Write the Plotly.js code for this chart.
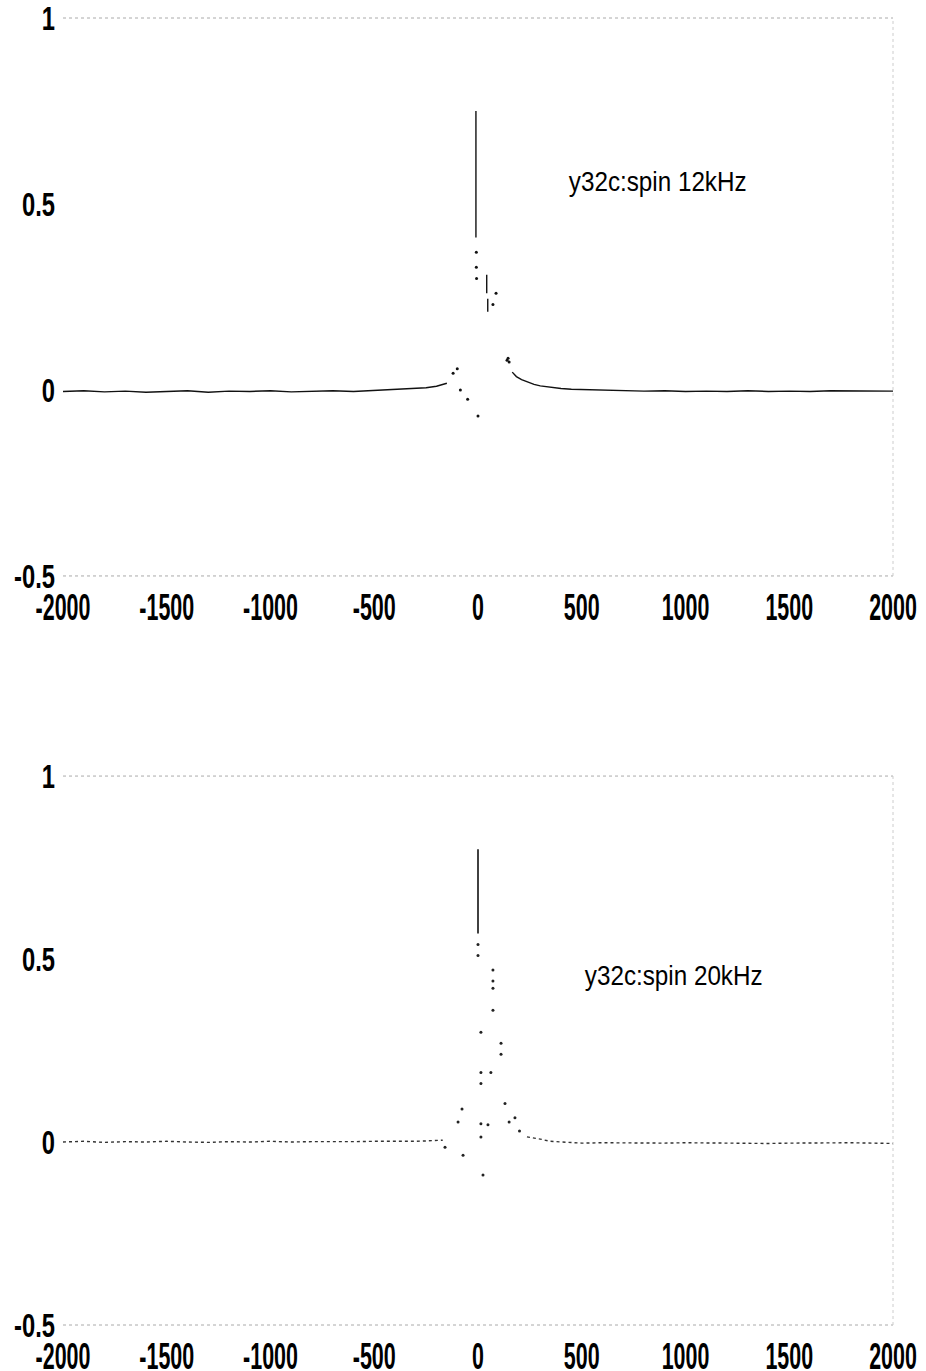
<!DOCTYPE html>
<html>
<head>
<meta charset="utf-8">
<script src="https://cdn.plot.ly/plotly-3.0.1.min.js"></script>
<style>html,body{margin:0;padding:0;background:#fff;}#chart{width:926px;height:1371px;}</style>
</head>
<body>
<div id="chart"></div>
<script>
// ---- data ----
var xTickVals = [-2000, -1500, -1000, -500, 0, 500, 1000, 1500, 2000];
var xTickText = ['-2000', '-1500', '-1000', '-500', '0', '500', '1000', '1500', '2000'];
var yTickVals = [-0.5, 0, 0.5, 1];
var yTickText = ['-0.5', '0', '0.5', '1'];
var labelTop = 'y32c:spin 12kHz';
var labelBottom = 'y32c:spin 20kHz';

// top spectrum (12 kHz) - connected line pieces (null = gap)
var topLineX = [-2000, -1900, -1800, -1700, -1600, -1500, -1400, -1300, -1200, -1100, -1000, -900, -800, -700, -600, -500, -400, -300, -250, -200, -170, -150, null,
  -10, -10, null,
  42, 42, null,
  47, 47, null,
  165, 185, 210, 240, 270, 300, 350, 400, 450, 500, 600, 700, 800, 900, 1000, 1100, 1200, 1300, 1400, 1500, 1600, 1700, 1800, 1900, 2000];
var topLineY = [-0.004, -0.002, -0.005, -0.003, -0.006, -0.004, -0.002, -0.006, -0.003, -0.004, -0.002, -0.005, -0.003, -0.002, -0.004, -0.001, 0.001, 0.004, 0.006, 0.010, 0.014, 0.018, null,
  0.75, 0.41, null,
  0.31, 0.26, null,
  0.245, 0.21, null,
  0.048, 0.036, 0.028, 0.021, 0.015, 0.011, 0.007, 0.004, 0.002, 0.001, 0.0, -0.002, -0.003, -0.002, -0.004, -0.003, -0.004, -0.002, -0.004, -0.003, -0.004, -0.002, -0.003, -0.004, -0.003];
// top spectrum - isolated dots
var topDotsX = [-120, -100, -85, -50, 0, -8, -8, -7, 72, 87, 140, 145, 150];
var topDotsY = [0.045, 0.057, 0.0, -0.025, -0.07, 0.37, 0.33, 0.30, 0.23, 0.26, 0.08, 0.085, 0.075];

// bottom spectrum (20 kHz)
var botLineX = [-2000, -1900, -1800, -1700, -1600, -1500, -1400, -1300, -1200, -1100, -1000, -900, -800, -700, -600, -500, -400, -300, -250, -200, -170, null,
  236, 260, 300, 347, 400, 500, 600, 700, 800, 900, 1000, 1100, 1200, 1300, 1400, 1500, 1600, 1700, 1800, 1900, 2000];
var botLineY = [0.0, 0.002, -0.001, 0.001, 0.0, 0.002, 0.0, -0.001, 0.001, 0.0, 0.002, 0.0, 0.001, 0.0, 0.001, 0.002, 0.001, 0.002, 0.003, 0.004, 0.005, null,
  0.014, 0.012, 0.008, 0.002, 0.0, -0.003, -0.002, -0.003, -0.002, -0.003, -0.002, -0.003, -0.002, -0.003, -0.004, -0.003, -0.002, -0.003, -0.002, -0.003, -0.004];
var botPeakX = [0, 0];
var botPeakY = [0.80, 0.57];
var botDotsX = [0, 0, 72, 72, 72, 72, 14, 111, 111, 14, 62, 14, 130, 178, 150, -77, -96, 14, 14, 48, -159, -72, 24, 200];
var botDotsY = [0.54, 0.51, 0.47, 0.44, 0.42, 0.36, 0.30, 0.27, 0.24, 0.19, 0.19, 0.16, 0.105, 0.066, 0.055, 0.09, 0.055, 0.05, 0.014, 0.047, -0.014, -0.036, -0.09, 0.03];

// ---- chart ----
var FAM = 'Liberation Sans, Arial, sans-serif';
var tickFontX = {family: FAM, size: 37, color: '#000', weight: 'bold'};
var tickFontY = {family: FAM, size: 33, color: '#000', weight: 'bold'};

var traces = [
  {x: topLineX, y: topLineY, xaxis: 'x', yaxis: 'y', mode: 'lines', connectgaps: false,
   line: {color: '#111', width: 1.4}, hoverinfo: 'skip'},
  {x: topDotsX, y: topDotsY, xaxis: 'x', yaxis: 'y', mode: 'markers',
   marker: {color: '#111', size: 3}, hoverinfo: 'skip'},
  {x: botLineX, y: botLineY, xaxis: 'x2', yaxis: 'y2', mode: 'lines', connectgaps: false,
   line: {color: '#333', width: 1.4, dash: 'dot'}, hoverinfo: 'skip'},
  {x: botDotsX, y: botDotsY, xaxis: 'x2', yaxis: 'y2', mode: 'markers',
   marker: {color: '#222', size: 3}, hoverinfo: 'skip'},
  {x: botPeakX, y: botPeakY, xaxis: 'x2', yaxis: 'y2', mode: 'lines',
   line: {color: '#111', width: 1.6}, hoverinfo: 'skip'}
];

function xa(anchor) {
  return {anchor: anchor, range: [-2000, 2000], tickvals: xTickVals, ticktext: xTickText,
    showgrid: false, zeroline: false, showline: false, ticks: '', tickfont: tickFontX,
    ticklabelstandoff: 6, ticklabeloverflow: 'allow', fixedrange: true};
}
function ya(anchor, dom) {
  return {anchor: anchor, domain: dom, range: [-0.5, 1], tickvals: yTickVals, ticktext: yTickText,
    showgrid: false, zeroline: false, showline: false, ticks: '', tickfont: tickFontY,
    ticklabelstandoff: 7, ticklabeloverflow: 'allow', fixedrange: true};
}

function frame(xr, yr) {
  var dotLine = {color: '#aaa', width: 1, dash: 'dot'};
  return [
    {type: 'line', xref: xr + ' domain', yref: yr + ' domain', x0: 0, x1: 1, y0: 1, y1: 1, line: dotLine},
    {type: 'line', xref: xr + ' domain', yref: yr + ' domain', x0: 0, x1: 1, y0: 0, y1: 0, line: dotLine},
    {type: 'line', xref: xr + ' domain', yref: yr + ' domain', x0: 1, x1: 1, y0: 0, y1: 1, line: {color: '#ccc', width: 1, dash: 'dot'}}
  ];
}

var layout = {
  width: 926, height: 1371,
  margin: {l: 63, r: 33, t: 18, b: 46},
  paper_bgcolor: '#fff', plot_bgcolor: '#fff',
  showlegend: false,
  xaxis: xa('y'),
  yaxis: ya('x', [0.5731, 1]),
  xaxis2: xa('y2'),
  yaxis2: ya('x2', [0, 0.42]),
  shapes: frame('x', 'y').concat(frame('x2', 'y2')),
  annotations: [
    {xref: 'x', yref: 'y', x: 863, y: 0.56, text: labelTop, showarrow: false,
     font: {family: FAM, size: 28, color: '#000'}},
    {xref: 'x2', yref: 'y2', x: 940, y: 0.456, text: labelBottom, showarrow: false,
     font: {family: FAM, size: 28, color: '#000'}}
  ]
};

// narrow the (condensed-looking) lettering of the original while keeping it real text
function squeeze(gd, sel, f) {
  gd.querySelectorAll(sel).forEach(function (t) {
    var w = t.getComputedTextLength();
    if (w > 0) {
      t.setAttribute('textLength', (w * f).toFixed(1));
      t.setAttribute('lengthAdjust', 'spacingAndGlyphs');
    }
  });
}

var gd = document.getElementById('chart');
Plotly.newPlot(gd, traces, layout, {staticPlot: true, displayModeBar: false}).then(function () {
  squeeze(gd, '.xtick text, .x2tick text', 0.58);
  squeeze(gd, '.ytick text, .y2tick text', 0.72);
  squeeze(gd, '.annotation-text', 0.865);
});
</script>
</body>
</html>
